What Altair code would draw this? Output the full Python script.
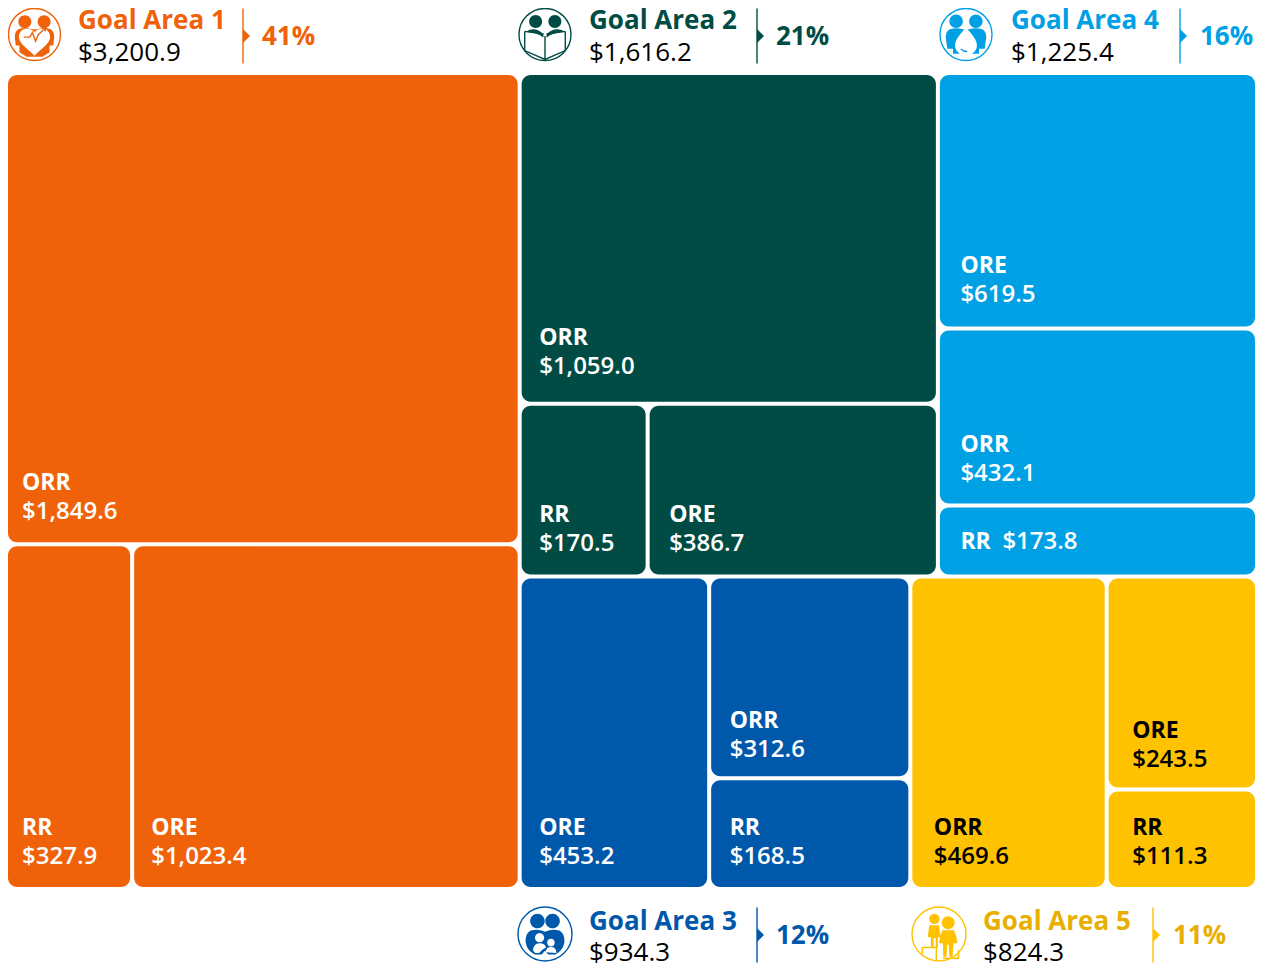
import altair as alt
import pandas as pd

# ---- data -------------------------------------------------------------
goal_names = ["Goal Area 1", "Goal Area 2", "Goal Area 4", "Goal Area 3", "Goal Area 5"]
goal_totals = [3200.9, 1616.2, 1225.4, 934.3, 824.3]
goal_shares = ["41%", "21%", "16%", "12%", "11%"]
ga1_values = {"ORR": 1849.6, "RR": 327.9, "ORE": 1023.4}
ga2_values = {"ORR": 1059.0, "RR": 170.5, "ORE": 386.7}
ga4_values = {"ORE": 619.5, "ORR": 432.1, "RR": 173.8}
ga3_values = {"ORE": 453.2, "ORR": 312.6, "RR": 168.5}
ga5_values = {"ORR": 469.6, "ORE": 243.5, "RR": 111.3}

# ---- style ------------------------------------------------------------
tile_colors = ["#EF6209", "#004C45", "#00A0E5", "#0058AB", "#FFC200"]
title_colors = ["#EF6209", "#004C45", "#00A0E5", "#0058AB", "#E8AE00"]
label_colors = ["#FFFFFF", "#FFFFFF", "#FFFFFF", "#FFFFFF", "#000000"]
FONT = "Open Sans"
W, H = 1247, 812
PAD_TOP, PAD_BOTTOM = 67, 80
TOTAL = sum(goal_totals)
PX = TOTAL / W  # data units per horizontal pixel
PY = TOTAL / H  # data units per vertical pixel
GAP_X = 2 * PX
GAP_Y = 2 * PY
# baseline of a tile's amount, in pixels above the tile's bottom edge
money_lift = {
    (0, "ORR"): 23, (0, "RR"): 23, (0, "ORE"): 23,
    (1, "ORR"): 28, (1, "RR"): 24, (1, "ORE"): 24,
    (2, "ORE"): 25, (2, "ORR"): 22.5,
    (3, "ORR"): 19, (3, "RR"): 23, (3, "ORE"): 23,
    (4, "ORE"): 21, (4, "ORR"): 23, (4, "RR"): 23,
}
# text inset from a tile's left edge, in pixels
text_inset = {
    (0, "ORR"): 14, (0, "RR"): 14, (0, "ORE"): 17,
    (1, "ORR"): 17.5, (1, "RR"): 17.5, (1, "ORE"): 19.5,
    (2, "ORE"): 20.5, (2, "ORR"): 20.5, (2, "RR"): 20.5,
    (3, "ORE"): 17.5, (3, "ORR"): 18.5, (3, "RR"): 18.5,
    (4, "ORR"): 21.5, (4, "ORE"): 23.5, (4, "RR"): 23.5,
}
LINE_GAP = 29


# ---- treemap layout, derived from the values only ----------------------
def split_h(x0, x1, y0, y1, parts):
    s = sum(parts)
    out, c = [], x0
    for p in parts:
        n = c + (x1 - x0) * p / s
        out.append((c, n, y0, y1))
        c = n
    return out


def split_v(x0, x1, y0, y1, parts):
    s = sum(parts)
    out, c = [], y0
    for p in parts:
        n = c + (y1 - y0) * p / s
        out.append((x0, x1, c, n))
        c = n
    return out


g1, g2, g4, g3, g5 = goal_totals
col1, col2 = split_h(0, TOTAL, 0, TOTAL, [g1, TOTAL - g1])
top, bottom = split_v(*col2, [g2 + g4, g3 + g5])
b2, b4 = split_h(*top, [g2, g4])
b3, b5 = split_h(*bottom, [g3, g5])

tiles = []


def add(goal, cat, box, val):
    tiles.append({"goal": goal, "cat": cat, "box": box, "val": val})


a, b = split_v(*col1, [ga1_values["ORR"], ga1_values["RR"] + ga1_values["ORE"]])
add(0, "ORR", a, ga1_values["ORR"])
c, d = split_h(*b, [ga1_values["RR"], ga1_values["ORE"]])
add(0, "RR", c, ga1_values["RR"])
add(0, "ORE", d, ga1_values["ORE"])

a, b = split_v(*b2, [ga2_values["ORR"], ga2_values["RR"] + ga2_values["ORE"]])
add(1, "ORR", a, ga2_values["ORR"])
c, d = split_h(*b, [ga2_values["RR"], ga2_values["ORE"]])
add(1, "RR", c, ga2_values["RR"])
add(1, "ORE", d, ga2_values["ORE"])

for cat, box in zip(ga4_values, split_v(*b4, list(ga4_values.values()))):
    add(2, cat, box, ga4_values[cat])

a, b = split_h(*b3, [ga3_values["ORE"], ga3_values["ORR"] + ga3_values["RR"]])
add(3, "ORE", a, ga3_values["ORE"])
c, d = split_v(*b, [ga3_values["ORR"], ga3_values["RR"]])
add(3, "ORR", c, ga3_values["ORR"])
add(3, "RR", d, ga3_values["RR"])

a, b = split_h(*b5, [ga5_values["ORR"], ga5_values["ORE"] + ga5_values["RR"]])
add(4, "ORR", a, ga5_values["ORR"])
c, d = split_v(*b, [ga5_values["ORE"], ga5_values["RR"]])
add(4, "ORE", c, ga5_values["ORE"])
add(4, "RR", d, ga5_values["RR"])

EPS = 1e-6
tile_rows, cat_rows, money_rows = [], [], []
for t in tiles:
    x0, x1, y0, y1 = t["box"]
    xa = x0 + GAP_X if x0 > EPS else x0
    xb = x1 - GAP_X if x1 < TOTAL - EPS else x1
    ya = y0 + GAP_Y if y0 > EPS else y0
    yb = y1 - GAP_Y if y1 < TOTAL - EPS else y1
    tile_rows.append({"x": xa, "x2": xb, "y": ya, "y2": yb, "color": tile_colors[t["goal"]]})
    key = (t["goal"], t["cat"])
    money = f"${t['val']:,.1f}"
    col = label_colors[t["goal"]]
    tx = xa + text_inset[key] * PX
    if key == (2, "RR"):
        cat_rows.append({"x": tx, "y": yb - 26 * PY, "text": "RR", "color": col})
        money_rows.append({"x": tx + 42 * PX, "y": yb - 26 * PY, "text": money, "color": col})
    else:
        lift = money_lift[key]
        cat_rows.append({"x": tx, "y": yb - (lift + LINE_GAP) * PY, "text": t["cat"], "color": col})
        money_rows.append({"x": tx, "y": yb - lift * PY, "text": money, "color": col})


# ---- icons ------------------------------------------------------------
def circ(x, y, r):
    return f"M{x-r},{y}a{r},{r} 0 1,0 {2*r},0a{r},{r} 0 1,0 {-2*r},0Z"


RING = circ(0, 0, 1)
icon_fill = [
    # Goal 1: two people, heart
    [("c", circ(-.37, -.49, .25) + circ(.37, -.49, .25)
      + "M-.62,-.2Q-.37,-.3,-.12,-.2L.12,-.2Q.37,-.3,.62,-.2Q.76,-.12,.76,.1L.72,.42L.58,.42L.58,.68L.3,.86L-.3,.86L-.58,.68L-.58,.42L-.72,.42L-.76,.1Q-.76,-.12,-.62,-.2Z"),
     ("w", "M0,-.08C.14,-.3,.6,-.28,.6,.1C.6,.38,.2,.58,0,.82C-.2,.58,-.6,.38,-.6,.1C-.6,-.28,-.14,-.3,0,-.08Z"),
     ],
    # Goal 2: two readers, open book
    [("c", circ(-.36, -.5, .25) + circ(.38, -.5, .25)
      + "M-.72,-.12Q-.38,-.32,-.06,-.02L-.06,.12Q-.3,-.1,-.72,-.1Z"
      + "M.76,-.12Q.38,-.32,.06,-.02L.06,.12Q.3,-.1,.76,-.1Z"),
     ],
    # Goal 4: two people, water drop
    [("c", circ(-.38, -.51, .26) + circ(.38, -.51, .26)
      + "M-.62,-.2Q-.38,-.28,-.12,-.2L.12,-.2Q.38,-.28,.62,-.2Q.78,-.12,.78,.1L.72,.55L.5,.55L.5,.74L-.5,.74L-.5,.55L-.72,.55L-.78,.1Q-.78,-.12,-.62,-.2Z"),
     ("w", "M0,-.3C.12,-.1,.42,.15,.42,.42C.42,.66,.2,.8,0,.8C-.2,.8,-.42,.66,-.42,.42C-.42,.15,-.12,-.1,0,-.3Z"),
     ],
    # Goal 3: parents embracing children
    [("c", circ(-.28, -.48, .27) + circ(.28, -.48, .27)
      + "M-.55,-.12Q-.28,-.22,0,-.08Q.28,-.22,.55,-.12Q.74,0,.72,.3Q.68,.62,.38,.76L.12,.76L0,.62L-.12,.76L-.38,.76Q-.68,.62,-.72,.3Q-.74,0,-.55,-.12Z"),
     ("w", circ(-.2, .14, .17) + circ(.22, .32, .14)
      + "M-.44,.62Q-.44,.34,-.2,.34Q0,.34,.04,.5L-.1,.58L-.22,.7L-.36,.7Z"
      + "M.02,.68Q.04,.48,.22,.48Q.42,.48,.42,.7Z"),
     ],
    # Goal 5: two children on steps
    [("c", circ(-.17, -.56, .19) + circ(.34, -.42, .24)
      + "M-.36,-.32L.0,-.32L.06,.12L-.04,.12L-.04,.5L-.12,.5L-.12,.16L-.2,.16L-.2,.5L-.3,.5L-.3,.12L-.42,.12Z"
      + "M.12,-.14L.56,-.14Q.66,.1,.68,.34L.54,.34L.5,.84L.38,.84L.36,.4L.3,.4L.28,.84L.16,.84L.14,.34L.0,.34Q.02,.1,.12,-.14Z"),
     ],
]
icon_stroke = [
    "M-.42,.1L-.18,.1L-.08,-.08L.04,.26L.14,.02L.4,-.24M.28,-.26L.42,-.27L.41,-.12",
    "M-.78,-.12L-.78,.62L0,.96L.78,.62L.78,-.12M0,.06L0,.96M-.78,-.12L-.06,-.02M.78,-.12L.06,-.02",
    "M-.2,.56Q-.1,.66,.05,.66",
    "",
    "M-.62,.74L-.62,.5L-.1,.5L-.1,.98M.14,.9L.72,.9L.72,.6",
]

# header layout: pixel offsets of each block from the tile area's origin
icon_cx = [26.5, 537, 958, 537, 931]
icon_cy = [-40.5, -40.5, -40.5, 859, 859]
icon_d = [52, 52, 52, 54, 54]
title_x = [70, 581, 1003, 581, 975]
rule_x = [235, 749, 1172, 749, 1145]
pct_x = [254, 768, 1192, 768, 1165]
title_base = [-46, -46, -46, 855, 855]
money_base = [-14, -14, -14, 886, 886]
rule_cy = [-39, -39, -39, 860, 860]

fills, strokes, head_bold, head_plain = [], [], [], []
for i in range(5):
    ix, iy = icon_cx[i] * PX, icon_cy[i] * PY
    rx, ry = rule_x[i] * PX, rule_cy[i] * PY
    isz = icon_d[i] ** 2
    for kind, path in icon_fill[i]:
        fills.append({"x": ix, "y": iy, "path": path, "size": isz,
                      "color": tile_colors[i] if kind == "c" else "#FFFFFF"})
    fills.append({"x": rx, "y": ry, "path": "M0,-1L1,0L0,1Z", "size": 14 ** 2, "color": tile_colors[i]})
    strokes.append({"x": ix, "y": iy, "path": RING, "size": isz, "color": tile_colors[i]})
    if icon_stroke[i]:
        strokes.append({"x": ix, "y": iy, "path": icon_stroke[i], "size": isz, "color": tile_colors[i]})
    strokes.append({"x": rx, "y": ry, "path": "M0,-1L0,1", "size": 55 ** 2, "color": tile_colors[i]})
    head_bold.append({"x": title_x[i] * PX, "y": title_base[i] * PY, "text": goal_names[i], "color": title_colors[i]})
    head_bold.append({"x": pct_x[i] * PX, "y": (rule_cy[i] + 9) * PY, "text": goal_shares[i], "color": title_colors[i]})
    head_plain.append({"x": title_x[i] * PX, "y": money_base[i] * PY, "text": f"${goal_totals[i]:,.1f}", "color": "#000000"})

xs = alt.Scale(domain=[0, TOTAL], range=[0, W], nice=False, zero=False)
ys = alt.Scale(domain=[0, TOTAL], range=[0, H], nice=False, zero=False)
X = alt.X("x:Q", scale=xs, axis=None)
Y = alt.Y("y:Q", scale=ys, axis=None)
C = alt.Color("color:N", scale=None, legend=None)

rects = alt.Chart(pd.DataFrame(tile_rows)).mark_rect(cornerRadius=9).encode(
    x=X, x2="x2:Q", y=Y, y2="y2:Q", color=C
)


def text_layer(rows, size, weight):
    return alt.Chart(pd.DataFrame(rows)).mark_text(
        font=FONT, fontSize=size, fontWeight=weight, align="left", baseline="alphabetic"
    ).encode(x=X, y=Y, text="text:N", color=C)


symbol_enc = dict(
    x=X, y=Y,
    shape=alt.Shape("path:N", scale=None, legend=None),
    size=alt.Size("size:Q", scale=None, legend=None),
)
fill_layer = alt.Chart(pd.DataFrame(fills)).mark_point(filled=True, opacity=1, strokeWidth=0).encode(
    fill=alt.Fill("color:N", scale=None, legend=None), **symbol_enc
)
stroke_layer = alt.Chart(pd.DataFrame(strokes)).mark_point(filled=False, opacity=1, strokeWidth=1.4).encode(
    stroke=alt.Stroke("color:N", scale=None, legend=None), **symbol_enc
)

chart = (
    alt.layer(
        rects,
        text_layer(cat_rows, 23, 700),
        text_layer(money_rows, 24, 600),
        fill_layer,
        stroke_layer,
        text_layer(head_bold, 26, 700),
        text_layer(head_plain, 26, 400),
    )
    .properties(
        width=W, height=H,
        padding={"left": 0, "right": 0, "top": PAD_TOP, "bottom": PAD_BOTTOM},
        autosize=alt.AutoSizeParams(type="none"),
        background="white",
    )
    .configure_view(strokeWidth=0)
)
chart.save("out.html", embed_options={"renderer": "svg", "actions": False})
